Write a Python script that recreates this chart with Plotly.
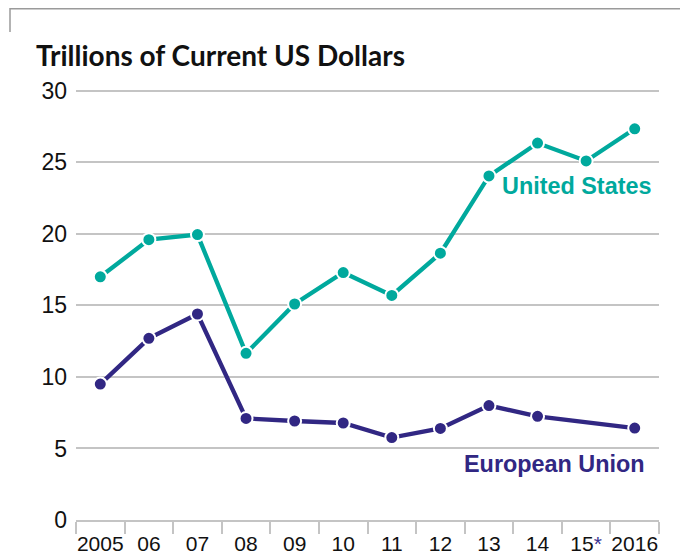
import plotly.graph_objects as go

# ---- data ----
years = [2005, 2006, 2007, 2008, 2009, 2010, 2011, 2012, 2013, 2014, 2015, 2016]
tick_labels = ["2005", "06", "07", "08", "09", "10", "11", "12", "13", "14",
               "15<span style='color:#3a3290'>*</span>", "2016"]
us_values = [17.0, 19.6, 19.95, 11.65, 15.1, 17.3, 15.7, 18.65, 24.05, 26.35, 25.1, 27.35]
eu_values = [9.5, 12.7, 14.4, 7.1, 6.92, 6.78, 5.76, 6.4, 8.0, 7.25, None, 6.43]
y_ticks = [0, 5, 10, 15, 20, 25, 30]

US_COLOR = "#00a99d"
EU_COLOR = "#312783"
GRID = "#c4c4c4"

# page body has an 8px margin, so the figure is drawn 8px in from the window corner
OFF = 8
W, H = 688 - OFF, 557 - OFF
L, R, T, B = 68, 29, 80, 37
pw, ph = W - L - R, H - T - B


def px(x):
    """window x pixel -> paper coordinate"""
    return (x - OFF - L) / pw


def py(y):
    """window y pixel -> paper coordinate"""
    return (H - B - (y - OFF)) / ph


fig = go.Figure()
for name, vals, col in [("United States", us_values, US_COLOR),
                        ("European Union", eu_values, EU_COLOR)]:
    fig.add_trace(go.Scatter(
        x=years, y=vals, mode="lines+markers", name=name,
        connectgaps=True,
        line=dict(color=col, width=4.3),
        marker=dict(color=col, size=13, line=dict(color="white", width=2)),
        cliponaxis=False, hoverinfo="skip",
    ))

fig.update_layout(
    width=W, height=H,
    margin=dict(l=L, r=R, t=T, b=B, autoexpand=False),
    plot_bgcolor="white", paper_bgcolor="white",
    showlegend=False,
)

fig.update_xaxes(
    range=[2004.5, 2016.5], automargin=False,
    tickmode="array", tickvals=years, ticktext=tick_labels, tickangle=0,
    ticks="", showgrid=False, zeroline=False,
    showline=True, linecolor=GRID, linewidth=2,
    tickfont=dict(family="Liberation Sans", size=21, color="#111"),
    ticklabelstandoff=4,
    minor=dict(tickvals=[y - 0.5 for y in years] + [2016.5], ticks="outside",
               ticklen=12, tickwidth=2, tickcolor=GRID, showgrid=False),
)
fig.update_yaxes(
    range=[0, 30.2], automargin=False,
    tickmode="array", tickvals=y_ticks,
    showgrid=True, gridcolor=GRID, gridwidth=2,
    zeroline=False, showline=False, ticks="",
    tickfont=dict(family="Liberation Sans", size=23, color="#111"),
    ticklabelstandoff=8,
)

fig.add_annotation(text="Trillions of Current US Dollars", xref="paper", yref="paper",
                   x=px(34), y=py(55), xanchor="left", yanchor="middle",
                   showarrow=False,
                   font=dict(family="Lato", size=28, color="#111", weight=700))
fig.add_annotation(text="<b>United States</b>", xref="paper", yref="paper",
                   x=px(500), y=py(186), xanchor="left", yanchor="middle",
                   showarrow=False,
                   font=dict(family="Liberation Sans", size=23.4, color=US_COLOR))
fig.add_annotation(text="<b>European Union</b>", xref="paper", yref="paper",
                   x=px(462), y=py(464), xanchor="left", yanchor="middle",
                   showarrow=False,
                   font=dict(family="Liberation Sans", size=23.4, color=EU_COLOR))

# decorative top frame
frame = "#9a9a9a"
fig.add_shape(type="path", xref="paper", yref="paper",
              path=f"M {px(10)} {py(32)} L {px(10)} {py(8.8)} L {px(686)} {py(8.8)} L {px(686)} {py(32)}",
              line=dict(color=frame, width=1.5))

fig.write_html("out.html")
